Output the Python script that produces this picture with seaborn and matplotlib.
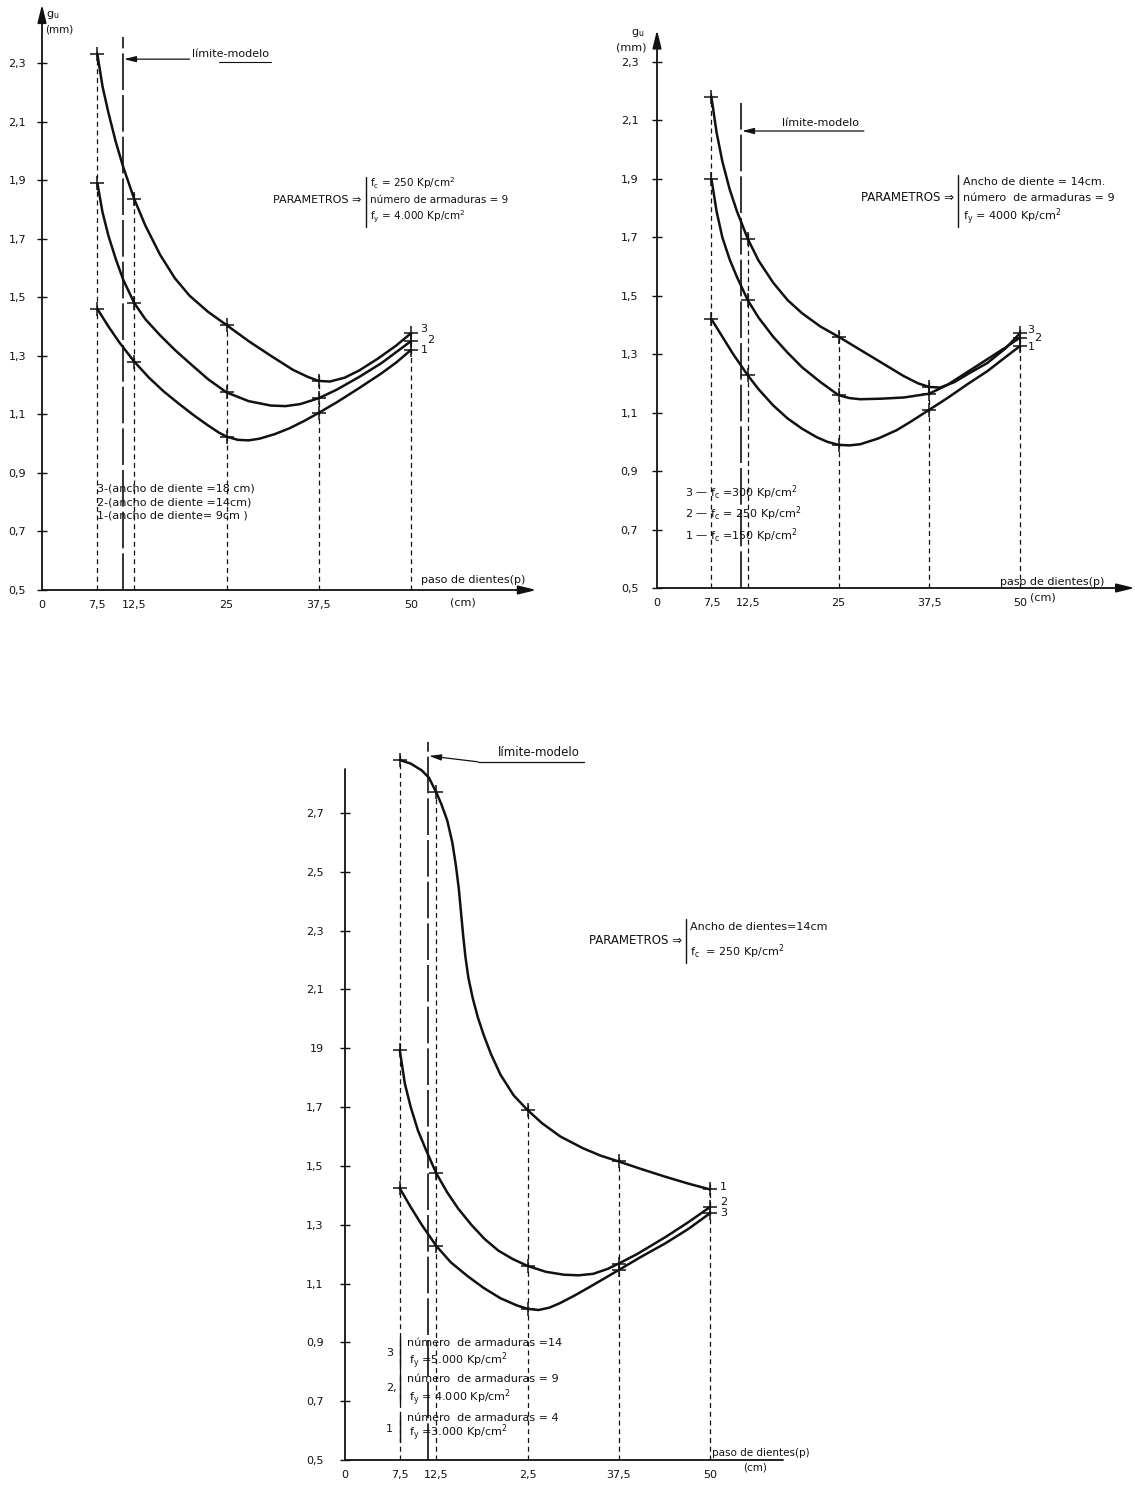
import matplotlib
matplotlib.use("Agg")
import matplotlib.pyplot as plt
import pandas as pd
import seaborn as sns

sns.set_theme(style="white")
plt.rcParams["font.family"] = ["DejaVu Sans"]
plt.rcParams["mathtext.default"] = "regular"

# ---------------------------------------------------------------- data
x_ticks = [0, 7.5, 12.5, 25, 37.5, 50]
x_labels_ab = ["0", "7,5", "12,5", "25", "37,5", "50"]
x_labels_c = ["0", "7,5", "12,5", "2,5", "37,5", "50"]
marker_x = [7.5, 12.5, 25, 37.5, 50]

y_ticks_ab = [0.5, 0.7, 0.9, 1.1, 1.3, 1.5, 1.7, 1.9, 2.1, 2.3]
y_labels_ab = ["0,5", "0,7", "0,9", "1,1", "1,3", "1,5", "1,7", "1,9", "2,1", "2,3"]
y_ticks_c = [0.5, 0.7, 0.9, 1.1, 1.3, 1.5, 1.7, 1.9, 2.1, 2.3, 2.5, 2.7]
y_labels_c = ["0,5", "0,7", "0,9", "1,1", "1,3", "1,5", "1,7", "19", "2,1", "2,3", "2,5", "2,7"]

# Panel A (top left): curves by ancho de diente
a3_x = [7.5, 8.2, 9.0, 10, 11, 12.5, 14, 16, 18, 20, 22.5, 25, 28, 31, 34, 36, 37.5, 39, 41, 43, 45.5, 48, 50]
a3_y = [2.33, 2.22, 2.13, 2.03, 1.945, 1.835, 1.745, 1.645, 1.565, 1.505, 1.45, 1.405, 1.35, 1.30,
        1.252, 1.228, 1.214, 1.212, 1.225, 1.25, 1.29, 1.335, 1.377]
a2_x = [7.5, 8.2, 9.0, 10, 11, 12.5, 14, 16, 18, 20, 22.5, 25, 28, 31, 33, 35, 37.5, 40, 43, 46, 50]
a2_y = [1.89, 1.79, 1.71, 1.63, 1.56, 1.48, 1.425, 1.37, 1.32, 1.275, 1.22, 1.175, 1.145, 1.13,
        1.128, 1.135, 1.155, 1.185, 1.228, 1.275, 1.35]
a1_x = [7.5, 9, 10.5, 12.5, 14.5, 16.5, 18.5, 20.5, 22.5, 24, 25, 26.5, 28, 29.5, 31.5, 33.5,
        35.5, 37.5, 40, 43, 46, 48, 50]
a1_y = [1.46, 1.40, 1.345, 1.28, 1.225, 1.178, 1.137, 1.098, 1.062, 1.037, 1.024, 1.013, 1.011,
        1.017, 1.032, 1.052, 1.077, 1.105, 1.142, 1.19, 1.24, 1.277, 1.32]
a_limit = 11.0
a_legend = ["3-(ancho de diente =18 cm)", "2-(ancho de diente =14cm)", "1-(ancho de diente= 9cm )"]
a_params = ["f$_c$ = 250 Kp/cm$^2$", "número de armaduras = 9", "f$_y$ = 4.000 Kp/cm$^2$"]

# Panel B (top right): curves by f_c
b3_x = [7.5, 8.2, 9, 10, 11, 12.5, 14, 16, 18, 20, 22.5, 25, 28, 31, 34, 36, 37.5, 39, 41, 43,
        45.5, 48, 50]
b3_y = [2.18, 2.06, 1.96, 1.865, 1.79, 1.695, 1.62, 1.545, 1.485, 1.44, 1.395, 1.36, 1.315, 1.27,
        1.225, 1.2, 1.188, 1.186, 1.205, 1.235, 1.27, 1.32, 1.372]
b2_x = [7.5, 8.2, 9, 10, 11, 12.5, 14, 16, 18, 20, 22.5, 25, 26.5, 28, 31, 34, 37.5, 40, 42.8,
        45.5, 48, 50]
b2_y = [1.90, 1.79, 1.70, 1.625, 1.565, 1.485, 1.425, 1.36, 1.305, 1.255, 1.205, 1.16, 1.15,
        1.146, 1.148, 1.152, 1.165, 1.195, 1.24, 1.283, 1.323, 1.357]
b1_x = [7.5, 9, 10.5, 12.5, 14, 16, 18, 20, 22, 23.5, 25, 26.5, 28, 30.5, 33, 35, 37.5, 40,
        42.8, 45.5, 48, 50]
b1_y = [1.42, 1.36, 1.30, 1.228, 1.18, 1.125, 1.08, 1.045, 1.016, 1.0, 0.99, 0.988, 0.992,
        1.012, 1.04, 1.07, 1.11, 1.15, 1.198, 1.242, 1.29, 1.328]
b_limit = 11.6
b_legend = ["3 — f$_c$ =300 Kp/cm$^2$", "2 — f$_c$ = 250 Kp/cm$^2$", "1 — f$_c$ =150 Kp/cm$^2$"]
b_params = ["Ancho de diente = 14cm.", "número  de armaduras = 9", "f$_y$ = 4000 Kp/cm$^2$"]

# Panel C (bottom): curves by armaduras / f_y
c1_x = [7.5, 9, 10.5, 11.5, 12.5, 13.2, 14, 14.7, 15.2, 15.6, 15.9, 16.2, 16.5, 16.9, 17.5,
        18.2, 19, 20, 21.3, 23.1, 25, 27, 29.5, 32.6, 35, 37.5, 40.5, 43.9, 47, 50]
c1_y = [2.88, 2.868, 2.845, 2.82, 2.77, 2.73, 2.675, 2.60, 2.52, 2.44, 2.36, 2.28, 2.21, 2.14,
        2.07, 2.005, 1.945, 1.88, 1.81, 1.74, 1.69, 1.645, 1.60, 1.56, 1.535, 1.515, 1.49,
        1.463, 1.44, 1.42]
c2_x = [7.5, 8.2, 9, 10, 11.1, 12.5, 14, 15.5, 17.3, 19.1, 21, 23, 25, 27.5, 30, 32, 34, 36,
        37.5, 40, 43.9, 47, 50]
c2_y = [1.894, 1.78, 1.70, 1.62, 1.554, 1.475, 1.41, 1.355, 1.30, 1.252, 1.212, 1.183, 1.16,
        1.14, 1.13, 1.128, 1.133, 1.15, 1.168, 1.20, 1.258, 1.308, 1.36]
c3_x = [7.5, 9, 10.5, 12.5, 14.5, 16.8, 19, 21.3, 23.5, 25, 26.5, 28, 29.5, 31.5, 33.5, 35.5,
        37.5, 40.5, 43.9, 47, 50]
c3_y = [1.424, 1.36, 1.30, 1.228, 1.172, 1.125, 1.085, 1.05, 1.026, 1.014, 1.01, 1.018, 1.034,
        1.06, 1.088, 1.117, 1.146, 1.19, 1.237, 1.285, 1.339]
c_limit = 11.4
c_legend_num = ["3", "2,", "1"]
c_legend_arm = ["número  de armaduras =14", "número  de armaduras = 9", "número  de armaduras = 4"]
c_legend_fy = ["f$_y$ =5.000 Kp/cm$^2$", "f$_y$ = 4.000 Kp/cm$^2$", "f$_y$ =3.000 Kp/cm$^2$"]
c_params = ["Ancho de dientes=14cm", "f$_c$  = 250 Kp/cm$^2$"]

# ---------------------------------------------------------------- helpers
FIG_W, FIG_H = 1135, 1486
INK = "#111111"
fig = plt.figure(figsize=(FIG_W / 100, FIG_H / 100), dpi=100)
fig.patch.set_facecolor("white")


def make_axes(x0, y0, pxcm, pxu, xmax, ymax):
    ax = fig.add_axes([x0 / FIG_W, (FIG_H - y0) / FIG_H,
                       xmax * pxcm / FIG_W, (ymax - 0.5) * pxu / FIG_H])
    ax.set_xlim(0, xmax)
    ax.set_ylim(0.5, ymax)
    for s in ax.spines.values():
        s.set_visible(False)
    ax.patch.set_alpha(0)
    return ax


def draw_curves(ax, curves):
    frames = [pd.DataFrame({"x": xs, "y": ys, "curva": name}) for name, xs, ys in curves]
    df = pd.concat(frames, ignore_index=True)
    sns.lineplot(data=df, x="x", y="y", units="curva", estimator=None, sort=False,
                 color=INK, lw=1.8, ax=ax, legend=False)
    dm = df[df["x"].isin(marker_x)]
    sns.scatterplot(data=dm, x="x", y="y", marker="+", s=110, color=INK,
                    linewidth=1.1, ax=ax, legend=False, zorder=4, clip_on=False)
    for line in ax.lines:
        line.set_clip_on(False)
        line.set_solid_joinstyle("round")
    ax.set_xlabel("")
    ax.set_ylabel("")
    # dashed guide lines
    for mx in marker_x:
        top = df.loc[df["x"] == mx, "y"].max() + 0.02
        ax.plot([mx, mx], [0.5, top], color=INK, lw=0.9, ls=(0, (4, 3)), clip_on=False)
    return df


def ticks(ax, xlabels, yticks, ylabels, ypad):
    ax.set_xticks(x_ticks)
    ax.set_xticklabels(xlabels, fontsize=8, color=INK)
    ax.set_yticks(yticks)
    ax.set_yticklabels(ylabels, fontsize=8, color=INK)
    ax.tick_params(axis="y", left=True, direction="inout", length=7, width=1,
                   color=INK, pad=ypad)
    ax.tick_params(axis="x", bottom=False, length=0, pad=7)


def axis_arrow(ax, p0, p1):
    ax.annotate("", xy=p1, xytext=p0, annotation_clip=False,
                arrowprops=dict(arrowstyle="-|>,head_length=0.9,head_width=0.22",
                                lw=1.3, color=INK, shrinkA=0, shrinkB=0))


def limit_line(ax, x, top):
    ax.plot([x, x], [0.5, top], color=INK, lw=1.2, ls=(0, (22, 3)), clip_on=False)


def params_block(ax, x_br, y_mid, y_lo, y_hi, lines, line_y, fs=8):
    ax.text(x_br - 0.6, y_mid, "PARAMETROS ⇒", ha="right", va="center", fontsize=fs, color=INK)
    ax.plot([x_br, x_br], [y_lo, y_hi], color=INK, lw=1.0, clip_on=False)
    for t, yy in zip(lines, line_y):
        ax.text(x_br + 0.6, yy, t, ha="left", va="center", fontsize=fs - 0.5, color=INK)


# ---------------------------------------------------------------- panel A
axA = make_axes(42, 590, 7.38, 292.8, 67, 2.5)
dfA = draw_curves(axA, [("3", a3_x, a3_y), ("2", a2_x, a2_y), ("1", a1_x, a1_y)])
ticks(axA, x_labels_ab, y_ticks_ab, y_labels_ab, 8)
axis_arrow(axA, (0, 0.5), (67, 0.5))
axis_arrow(axA, (0, 0.5), (0, 2.5))
limit_line(axA, a_limit, 2.39)
axA.annotate("", xy=(a_limit + 0.1, 2.313), xytext=(20.0, 2.313), annotation_clip=False,
             arrowprops=dict(arrowstyle="-|>,head_length=0.6,head_width=0.15", lw=0.9,
                             color=INK, shrinkA=0, shrinkB=0))
axA.text(20.3, 2.33, "límite-modelo", ha="left", va="center", fontsize=8, color=INK)
axA.plot([24.0, 31.0], [2.304, 2.304], color=INK, lw=0.8, clip_on=False)
axA.text(0.5, 2.465, "g$_u$", ha="left", va="center", fontsize=8, color=INK)
axA.text(0.4, 2.413, "(mm)", ha="left", va="center", fontsize=7.5, color=INK)
params_block(axA, 43.9, 1.832, 1.74, 1.91, a_params, [1.89, 1.832, 1.774])
for t, yy in zip(a_legend, [0.848, 0.80, 0.753]):
    axA.text(7.4, yy, t, ha="left", va="center", fontsize=8, color=INK)
for t, dx, yy in [("3", 1.3, 1.39), ("2", 2.2, 1.355), ("1", 1.3, 1.32)]:
    axA.text(50 + dx, yy, t, ha="left", va="center", fontsize=8, color=INK)
axA.text(51.3, 0.534, "paso de dientes(p)", ha="left", va="center", fontsize=8, color=INK)
axA.text(57.0, 0.459, "(cm)", ha="center", va="center", fontsize=8, color=INK)

# ---------------------------------------------------------------- panel B
axB = make_axes(657, 588, 7.26, 292.2, 65.8, 2.41)
dfB = draw_curves(axB, [("3", b3_x, b3_y), ("2", b2_x, b2_y), ("1", b1_x, b1_y)])
ticks(axB, x_labels_ab, y_ticks_ab, y_labels_ab, 10)
axis_arrow(axB, (0, 0.5), (65.8, 0.5))
axis_arrow(axB, (0, 0.5), (0, 2.41))
limit_line(axB, b_limit, 2.16)
axB.annotate("", xy=(b_limit + 0.1, 2.064), xytext=(28.5, 2.064), annotation_clip=False,
             arrowprops=dict(arrowstyle="-|>,head_length=0.6,head_width=0.15", lw=0.9,
                             color=INK, shrinkA=0, shrinkB=0))
axB.text(17.2, 2.09, "límite-modelo", ha="left", va="center", fontsize=8, color=INK)
axB.text(-2.6, 2.40, "g$_u$", ha="center", va="center", fontsize=8, color=INK)
axB.text(-3.6, 2.351, "(mm)", ha="center", va="center", fontsize=8, color=INK)
params_block(axB, 41.5, 1.835, 1.735, 1.913, b_params, [1.889, 1.835, 1.773], fs=8.5)
for t, yy in zip(b_legend, [0.825, 0.753, 0.678]):
    axB.text(3.8, yy, t, ha="left", va="center", fontsize=8, color=INK)
for t, dx, yy in [("3", 1.0, 1.383), ("2", 2.0, 1.356), ("1", 1.1, 1.325)]:
    axB.text(50 + dx, yy, t, ha="left", va="center", fontsize=8, color=INK)
axB.text(47.3, 0.52, "paso de dientes(p)", ha="left", va="center", fontsize=8, color=INK)
axB.text(53.2, 0.468, "(cm)", ha="center", va="center", fontsize=8, color=INK)

# ---------------------------------------------------------------- panel C
axC = make_axes(345, 1460, 7.3, 294.1, 62, 2.95)
dfC = draw_curves(axC, [("1", c1_x, c1_y), ("2", c2_x, c2_y), ("3", c3_x, c3_y)])
ticks(axC, x_labels_c, y_ticks_c, y_labels_c, 12)
axC.plot([0, 0], [0.5, 2.85], color=INK, lw=1.3, clip_on=False)
axC.plot([0, 60], [0.5, 0.5], color=INK, lw=1.3, clip_on=False)
limit_line(axC, c_limit, 2.94)
axC.annotate("", xy=(c_limit + 0.1, 2.894), xytext=(18.2, 2.874), annotation_clip=False,
             arrowprops=dict(arrowstyle="-|>,head_length=0.6,head_width=0.15", lw=0.9,
                             color=INK, shrinkA=0, shrinkB=0))
axC.plot([18.2, 32.8], [2.874, 2.874], color=INK, lw=0.9, clip_on=False)
axC.text(20.9, 2.905, "límite-modelo", ha="left", va="center", fontsize=8.5, color=INK)
params_block(axC, 46.7, 2.265, 2.19, 2.34, c_params, [2.312, 2.228], fs=8.5)
num_y = [0.865, 0.745, 0.607]
arm_y = [0.898, 0.775, 0.643]
fy_y = [0.84, 0.714, 0.592]
br = [(0.813, 0.918), (0.694, 0.796), (0.561, 0.653)]
for n, a, f, ny, ay, fy, (b0, b1) in zip(c_legend_num, c_legend_arm, c_legend_fy,
                                         num_y, arm_y, fy_y, br):
    axC.text(5.6, ny, n, ha="left", va="center", fontsize=8, color=INK)
    axC.plot([7.6, 7.6], [b0, b1], color=INK, lw=1.0, clip_on=False)
    axC.text(8.5, ay, a, ha="left", va="center", fontsize=8, color=INK)
    axC.text(8.7, fy, f, ha="left", va="center", fontsize=8, color=INK)
for t, dx, yy in [("1", 1.4, 1.428), ("2", 1.4, 1.377), ("3", 1.4, 1.34)]:
    axC.text(50 + dx, yy, t, ha="left", va="center", fontsize=8, color=INK)
axC.text(50.3, 0.524, "paso de dientes(p)", ha="left", va="center", fontsize=7.5, color=INK)
axC.text(56.2, 0.476, "(cm)", ha="center", va="center", fontsize=7.5, color=INK)

fig.savefig("out.png", dpi=100, facecolor="white")
